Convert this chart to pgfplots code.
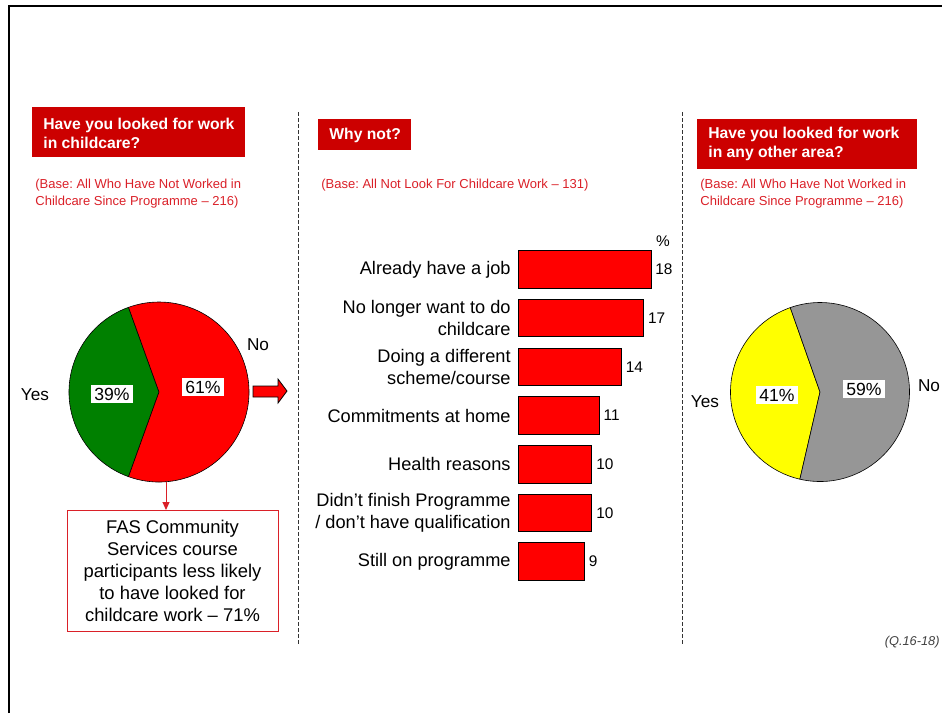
\documentclass[border=0pt]{standalone}
\usepackage{pgfplots}
\pgfplotsset{compat=1.18}
\usepackage{fontspec}
\setmainfont{Liberation Sans}
\usetikzlibrary{arrows.meta}
\frenchspacing

\definecolor{boxred}{RGB}{204,0,0}
\definecolor{basered}{RGB}{218,32,40}
\definecolor{piegreen}{RGB}{0,128,0}
\definecolor{piegray}{RGB}{150,150,150}
\definecolor{pieyellow}{RGB}{255,255,0}

\newcommand{\fs}[2]{\fontsize{#1}{#2}\selectfont}

\begin{document}
\begin{tikzpicture}[x=0.5pt,y=0.5pt]
\useasboundingbox (0,0) rectangle (942,-713);

% frame and separators
\draw[line width=1pt] (9,-713) -- (9,-6) -- (942,-6);
\draw[dash pattern=on 2pt off 1pt, line width=0.4pt, black!80] (298,-112) -- (298,-645);
\draw[dash pattern=on 2pt off 1pt, line width=0.4pt, black!80] (682,-112) -- (682,-645);

% title boxes
\fill[boxred] (32,-107) rectangle (245,-157);
\node[anchor=west, inner sep=0pt, align=left, text=white, font=\fs{7.85}{9.5}\bfseries]
  at (43,-133) {Have you looked for work\\in childcare?};
\fill[boxred] (318,-119) rectangle (411,-150);
\node[anchor=west, inner sep=0pt, text=white, font=\fs{7.85}{9.5}\bfseries]
  at (329,-135) {Why not?};
\fill[boxred] (697,-119) rectangle (917,-169);
\node[anchor=west, inner sep=0pt, align=left, text=white, font=\fs{7.85}{9.5}\bfseries]
  at (708,-144) {Have you looked for work\\in any other area?};

% base notes
\node[anchor=west, inner sep=0pt, align=left, text=basered, font=\fs{6.5}{8.5}]
  at (35,-193.5) {(Base: All Who Have Not Worked in\\Childcare Since Programme -- 216)};
\node[anchor=west, inner sep=0pt, text=basered, font=\fs{6.5}{8.5}]
  at (321,-185) {(Base: All Not Look For Childcare Work -- 131)};
\node[anchor=west, inner sep=0pt, align=left, text=basered, font=\fs{6.5}{8.5}]
  at (700,-193.5) {(Base: All Who Have Not Worked in\\Childcare Since Programme -- 216)};

% left pie: Yes 39, No 61
\begin{axis}[at={(79.5pt,-196pt)}, anchor=center, hide axis, scale only axis,
  width=90pt, height=90pt, xmin=-1, xmax=1, ymin=-1, ymax=1, clip=false]
\filldraw[fill=piegreen, draw=black, line width=0.3pt] (axis cs:0,0) -- +(109.8:45pt)
  arc[start angle=109.8, delta angle={39*3.6}, radius=45pt] -- cycle;
\filldraw[fill=red, draw=black, line width=0.3pt] (axis cs:0,0) -- +({109.8+39*3.6}:45pt)
  arc[start angle={109.8+39*3.6}, delta angle={61*3.6}, radius=45pt] -- cycle;
\end{axis}
\node[fill=white, inner sep=1.5pt, font=\fs{8.8}{10}] at (112,-394) {39\%};
\node[fill=white, inner sep=1.5pt, font=\fs{8.8}{10}] at (203,-387) {61\%};
\node[font=\fs{8.6}{10}] at (35,-395) {Yes};
\node[font=\fs{8.6}{10}] at (258,-345) {No};

% arrow to "Why not?"
\filldraw[fill=red, draw=black, line width=0.4pt] (253,-386) -- (278,-386) -- (278,-379)
  -- (287,-391) -- (278,-403) -- (278,-397) -- (253,-397) -- cycle;

% callout
\draw[basered, line width=0.5pt, -{Triangle[length=4pt,width=3.5pt]}] (166,-482) -- (166,-510);
\draw[basered, line width=0.5pt] (67,-510) rectangle (278,-631);
\node[align=center, inner sep=0pt, font=\fs{9.2}{11}] at (172.5,-571)
  {FAS Community\\Services course\\participants less likely\\to have looked for\\childcare work -- 71\%};

% bar chart: why not?
\begin{axis}[at={(259pt,-122.5pt)}, anchor=north west, scale only axis,
  width=66.5pt, height=170.5pt,
  xbar, bar width=18.75pt,
  xmin=0, xmax=18, ymin=0.5, ymax=7.5, y dir=reverse,
  axis lines*=left, axis line style={draw=none},
  xtick=\empty, ytick={1,2,3,4,5,6,7},
  yticklabels={Already have a job, {No longer want to do\\childcare},
    {Doing a different\\scheme/course}, Commitments at home, Health reasons,
    {Didn’t finish Programme\\/ don’t have qualification}, Still on programme},
  major tick length=0pt, ytick style={draw=none},
  yticklabel style={font=\fs{9.1}{10.8}, align=right, inner sep=0pt, xshift=-3.5pt},
  nodes near coords,
  nodes near coords style={font=\fs{7.7}{9}, anchor=west, inner sep=0pt, xshift=2pt},
  /pgf/number format/assume math mode=true,
  clip=false]
\addplot[fill=red, draw=black, line width=0.4pt] coordinates {
  (18,1) (17,2) (14,3) (11,4) (10,5) (10,6) (9,7)};
\end{axis}
\node[font=\fs{7.7}{9}] at (663,-241) {\%};

% right pie: Yes 41, No 59
\begin{axis}[at={(410pt,-196pt)}, anchor=center, hide axis, scale only axis,
  width=89.5pt, height=89.5pt, xmin=-1, xmax=1, ymin=-1, ymax=1, clip=false]
\filldraw[fill=pieyellow, draw=black, line width=0.3pt] (axis cs:0,0) -- +(109.4:44.75pt)
  arc[start angle=109.4, delta angle={41*3.6}, radius=44.75pt] -- cycle;
\filldraw[fill=piegray, draw=black, line width=0.3pt] (axis cs:0,0) -- +({109.4+41*3.6}:44.75pt)
  arc[start angle={109.4+41*3.6}, delta angle={59*3.6}, radius=44.75pt] -- cycle;
\end{axis}
\node[fill=white, inner sep=1.5pt, font=\fs{8.8}{10}] at (777,-395) {41\%};
\node[fill=white, inner sep=1.5pt, font=\fs{8.8}{10}] at (864,-389) {59\%};
\node[font=\fs{8.6}{10}] at (705,-402) {Yes};
\node[font=\fs{8.6}{10}] at (929,-386) {No};

\node[anchor=east, inner sep=0pt, font=\fs{6.4}{8}\itshape, text=black!75] at (940,-642) {(Q.16-18)};
\end{tikzpicture}
\end{document}
